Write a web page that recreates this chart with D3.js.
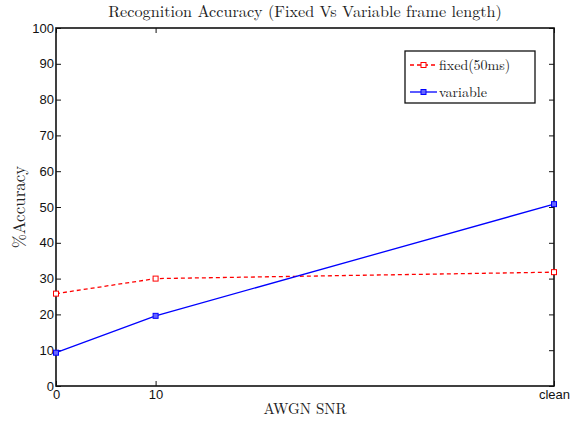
<!DOCTYPE html>
<html>
<head>
<meta charset="utf-8">
<script src="https://cdn.jsdelivr.net/npm/d3@7"></script>
<style>
  html, body { margin: 0; padding: 0; background: #fff; }
  svg { display: block; }
</style>
</head>
<body>
<svg id="chart" width="583" height="421"></svg>
<script>
// SNR conditions; "clean" is placed at 50 on the linear axis
const snrPositions = [0, 10, 50];
const snrLabels = ["0", "10", "clean"];
const fixedAccuracy = [25.8, 30.0, 31.8];
const variableAccuracy = [9.3, 19.6, 50.8];
const yTicks = [0, 10, 20, 30, 40, 50, 60, 70, 80, 90, 100];
const seriesNames = ["fixed(50ms)", "variable"];

const svg = d3.select("#chart");
const margin = { left: 56, right: 29, top: 28, bottom: 35 };
const W = 583, H = 421;
const x = d3.scaleLinear().domain([0, 50]).range([margin.left, W - margin.right]);
const y = d3.scaleLinear().domain([0, 100]).range([H - margin.bottom, margin.top]);

const serif = "'Latin Modern Roman','CMU Serif','Liberation Serif','DejaVu Serif',serif";
const sans = "'Liberation Sans', Arial, Helvetica, sans-serif";

// axes with inward ticks on all four sides
const tickLen = 5;
const xAxisB = d3.axisBottom(x).tickValues(snrPositions)
  .tickFormat((d, i) => snrLabels[i]).tickSizeInner(-tickLen).tickSizeOuter(0).tickPadding(4);
const xAxisT = d3.axisTop(x).tickValues(snrPositions).tickFormat("").tickSizeInner(-tickLen).tickSizeOuter(0);
const yAxisL = d3.axisLeft(y).tickValues(yTicks).tickSizeInner(-tickLen).tickSizeOuter(0).tickPadding(2);
const yAxisR = d3.axisRight(y).tickValues(yTicks).tickFormat("").tickSizeInner(-tickLen).tickSizeOuter(0);

function styleAxis(g) {
  g.select(".domain").remove();
  g.selectAll(".tick line").attr("stroke", "#111").attr("stroke-width", 1);
  g.selectAll(".tick text").attr("fill", "#111").style("font-family", sans).style("font-size", "13px");
}

svg.append("g").attr("transform", `translate(0,${y(0)})`).call(xAxisB).call(styleAxis);
svg.append("g").attr("transform", `translate(0,${y(100)})`).call(xAxisT).call(styleAxis);
svg.append("g").attr("transform", `translate(${x(0)},0)`).call(yAxisL).call(styleAxis);
svg.append("g").attr("transform", `translate(${x(50)},0)`).call(yAxisR).call(styleAxis);

// plot frame
svg.append("rect")
  .attr("x", x(0)).attr("y", y(100))
  .attr("width", x(50) - x(0)).attr("height", y(0) - y(100))
  .attr("fill", "none").attr("stroke", "#111").attr("stroke-width", 1.6);

// series
const line = d3.line().x((d, i) => x(snrPositions[i])).y(d => y(d));
const series = [
  { values: fixedAccuracy, color: "#ff0000", dash: "4,3", fill: "#fff" },
  { values: variableAccuracy, color: "#0000ff", dash: null, fill: "#6666ff" }
];

series.forEach(s => {
  svg.append("path").datum(s.values)
    .attr("d", line).attr("fill", "none")
    .attr("stroke", s.color).attr("stroke-width", 1.3)
    .attr("stroke-dasharray", s.dash);
  svg.selectAll(null).data(s.values).enter().append("rect")
    .attr("x", (d, i) => x(snrPositions[i]) - 2.5)
    .attr("y", d => y(d) - 2.5)
    .attr("width", 5).attr("height", 5)
    .attr("fill", s.fill)
    .attr("stroke", s.color).attr("stroke-width", 1);
});

// title and axis labels
svg.append("text").attr("x", (x(0) + x(50)) / 2).attr("y", 17)
  .attr("text-anchor", "middle").style("font-family", serif).style("font-size", "16.2px")
  .attr("fill", "#222").text("Recognition Accuracy (Fixed Vs Variable frame length)");
svg.append("text").attr("x", (x(0) + x(50)) / 2).attr("y", 414)
  .attr("text-anchor", "middle").style("font-family", serif).style("font-size", "15px")
  .attr("fill", "#222").text("AWGN SNR");
svg.append("text")
  .attr("transform", `translate(25,${(y(0) + y(100)) / 2}) rotate(-90)`)
  .attr("text-anchor", "middle").style("font-family", serif).style("font-size", "17px")
  .attr("fill", "#222").text("%Accuracy");

// legend
const lg = svg.append("g");
lg.append("rect").attr("x", 405).attr("y", 51).attr("width", 130).attr("height", 52)
  .attr("fill", "#fff").attr("stroke", "#111").attr("stroke-width", 1.3);
series.forEach((s, i) => {
  const ly = 65 + i * 27;
  lg.append("line").attr("x1", 410).attr("x2", 437).attr("y1", ly).attr("y2", ly)
    .attr("stroke", s.color).attr("stroke-width", 1.3).attr("stroke-dasharray", s.dash);
  lg.append("rect").attr("x", 421).attr("y", ly - 2.5).attr("width", 5).attr("height", 5)
    .attr("fill", s.fill).attr("stroke", s.color).attr("stroke-width", 1);
  lg.append("text").attr("x", 439).attr("y", ly + 4.5)
    .style("font-family", serif).style("font-size", "14px").attr("fill", "#222")
    .text(seriesNames[i]);
});
</script>
</body>
</html>
